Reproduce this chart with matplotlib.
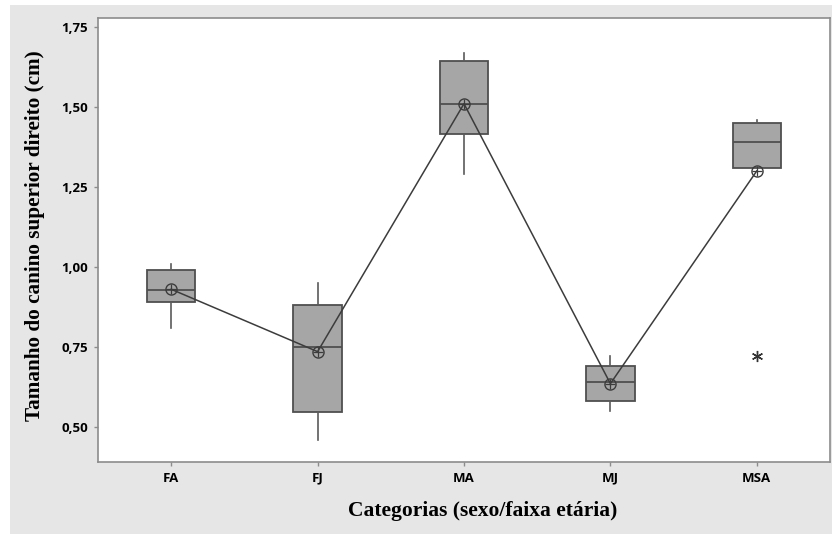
import matplotlib.pyplot as plt
from matplotlib.patches import Rectangle

# Dados (resumo dos boxplots)
categorias = ['FA', 'FJ', 'MA', 'MJ', 'MSA']
q1 = [0.89, 0.545, 1.415, 0.58, 1.31]
mediana = [0.928, 0.75, 1.51, 0.64, 1.39]
q3 = [0.99, 0.88, 1.645, 0.69, 1.45]
whisk_low = [0.81, 0.46, 1.29, 0.55, 1.31]
whisk_high = [1.01, 0.95, 1.67, 0.72, 1.46]
media = [0.93, 0.735, 1.51, 0.635, 1.30]
outliers = [[], [], [], [], [0.72]]

y_ticks = [0.50, 0.75, 1.00, 1.25, 1.50, 1.75]
y_labels = ['0,50', '0,75', '1,00', '1,25', '1,50', '1,75']

stats = []
for i, c in enumerate(categorias):
    stats.append(dict(label=c, q1=q1[i], med=mediana[i], q3=q3[i],
                      whislo=whisk_low[i], whishi=whisk_high[i], fliers=outliers[i]))

fig = plt.figure(figsize=(8.32, 5.34), dpi=100, facecolor='white')
# fundo cinza da janela
fig.patches.append(Rectangle((10 / 832, 0), 1, 1 - 5 / 534, transform=fig.transFigure,
                             facecolor='#e6e6e6', edgecolor='none', zorder=-10))

ax = fig.add_axes([98 / 832, 72 / 534, 732 / 832, 444 / 534])
ax.set_facecolor('white')

pos = list(range(1, len(categorias) + 1))
edge = '#4f4f4f'
ax.bxp(stats, positions=pos, widths=0.33, patch_artist=True, showcaps=False,
       boxprops=dict(facecolor='#a6a6a6', edgecolor=edge, linewidth=1.3),
       medianprops=dict(color=edge, linewidth=1.3),
       whiskerprops=dict(color='#5a5a5a', linewidth=1.2),
       flierprops=dict(marker=(6, 2, 0), markersize=8, markeredgewidth=1.0,
                       markeredgecolor='#333333', linestyle='none'))

# linha das médias com marcador de círculo e cruz
ax.plot(pos, media, color='#3c3c3c', linewidth=1.1, zorder=4)
ax.plot(pos, media, linestyle='none', marker='o', markersize=8, markerfacecolor='none',
        markeredgecolor='#3c3c3c', markeredgewidth=1.0, zorder=5)
ax.plot(pos, media, linestyle='none', marker='+', markersize=7,
        markeredgecolor='#3c3c3c', markeredgewidth=0.9, zorder=5)

ax.set_xlim(0.5, 5.5)
ax.set_ylim(0.39, 1.778)
ax.set_xticks(pos)
ax.set_xticklabels(categorias, fontfamily='Open Sans', fontweight='bold', fontsize=9.5)
ax.set_yticks(y_ticks)
ax.set_yticklabels(y_labels, fontfamily='Open Sans', fontweight='bold', fontsize=9.5)

for s in ax.spines.values():
    s.set_color('#8c8c8c')
    s.set_linewidth(1.2)
ax.tick_params(direction='out', length=3, color='#8c8c8c', width=1, pad=4)

fig.text(35 / 832, 1 - 236 / 534, 'Tamanho do canino superior direito (cm)', rotation=90,
         ha='center', va='center', fontfamily='Liberation Serif', fontweight='bold', fontsize=15.3)
fig.text(483 / 832, 1 - 511 / 534, 'Categorias (sexo/faixa etária)',
         ha='center', va='center', fontfamily='Liberation Serif', fontweight='bold', fontsize=15.5)

fig.savefig('out.png', dpi=100, facecolor=fig.get_facecolor())
